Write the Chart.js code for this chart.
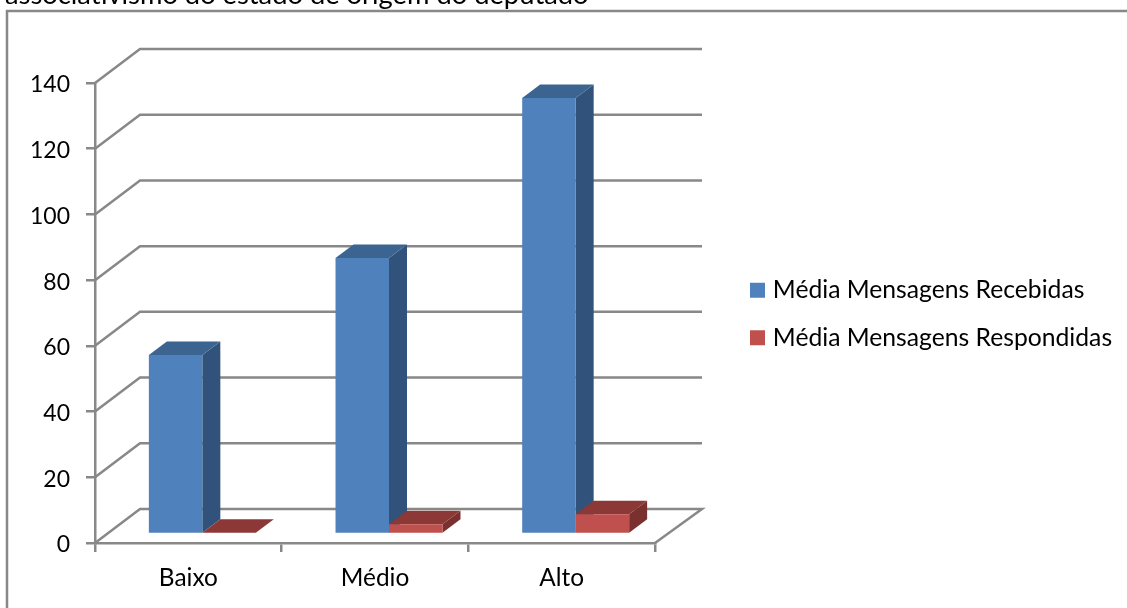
<!DOCTYPE html>
<html>
<head>
<meta charset="utf-8">
<script src="https://cdn.jsdelivr.net/npm/chart.js@4"></script>
<style>
  html, body { margin: 0; padding: 0; background: #fff; overflow: hidden; }
  #wrap { position: relative; width: 1127px; height: 608px; overflow: hidden; }
  #caption { position: absolute; left: 5px; top: -23px; font: 27.3px Lato, sans-serif; color: #000; white-space: nowrap; }
  canvas { position: absolute; left: 0; top: 0; }
</style>
</head>
<body>
<div id="wrap">
  <canvas id="chart" width="1127" height="608"></canvas>
  <div id="caption">associativismo do estado de origem do deputado</div>
</div>
<script>
const categories = ["Baixo", "Médio", "Alto"];
const recebidas = [54.5, 84, 132.7];
const respondidas = [0.4, 3, 6];
const yTicks = [0, 20, 40, 60, 80, 100, 120, 140];

const lineGrey = '#888888';
const chartFont = 'Lato, sans-serif';

// the 3D look: how far the walls and the bars go back
const wallX = 45, wallY = -34;
const barShiftX = 14, barShiftY = -9;
const depthX = 18, depthY = -13.5;

const faceColors = [
  { top: '#3b6491', side: '#31527a' },
  { top: '#8c3836', side: '#7a302e' }
];

function poly(ctx, pts, fill) {
  ctx.beginPath();
  pts.forEach((p, i) => i ? ctx.lineTo(p[0], p[1]) : ctx.moveTo(p[0], p[1]));
  ctx.closePath();
  ctx.fillStyle = fill;
  ctx.fill();
}

const threeD = {
  id: 'threeD',
  beforeLayout(chart) {
    // the legend sits far from the plot, so reserve the whole right part for it
    const legend = chart.legend;
    if (!legend._fitWrapped) {
      const fit = legend.fit;
      legend.fit = function () {
        fit.call(this);
        this.width = 472;
      };
      legend._fitWrapped = true;
    }
  },
  afterLayout(chart) {
    chart.legend.left = 731.5;
    chart.legend.bottom = 545;
  },
  beforeDraw(chart) {
    const ctx = chart.ctx;
    ctx.save();
    // outer frame, cut by the page on the right and at the bottom
    ctx.strokeStyle = lineGrey;
    ctx.lineWidth = 2.5;
    ctx.beginPath();
    ctx.moveTo(7, 610);
    ctx.lineTo(7, 11);
    ctx.lineTo(1129, 11);
    ctx.stroke();
    ctx.restore();
  },
  beforeDatasetsDraw(chart) {
    const ctx = chart.ctx;
    const { left, right } = chart.chartArea;
    const yScale = chart.scales.y;

    ctx.save();
    ctx.strokeStyle = lineGrey;
    ctx.lineWidth = 2.5;
    yTicks.forEach(v => {
      const y = yScale.getPixelForValue(v);
      ctx.beginPath();
      ctx.moveTo(left, y);
      ctx.lineTo(left + wallX, y + wallY);
      ctx.lineTo(right + wallX + 2, y + wallY);
      if (v === 0) ctx.lineTo(right, y);
      ctx.stroke();
    });
    ctx.restore();

    // side and top faces first, the fronts come from the bars themselves
    ctx.save();
    ctx.translate(barShiftX, barShiftY);
    chart.data.datasets.forEach((ds, i) => {
      chart.getDatasetMeta(i).data.forEach(bar => {
        const l = bar.x - bar.width / 2, r = bar.x + bar.width / 2;
        const t = bar.y, b = bar.base;
        poly(ctx, [[r, t], [r + depthX, t + depthY], [r + depthX, b + depthY], [r, b]], faceColors[i].side);
        poly(ctx, [[l, t], [l + depthX, t + depthY], [r + depthX, t + depthY], [r, t]], faceColors[i].top);
      });
    });
    ctx.restore();

    ctx.save();
    ctx.translate(barShiftX, barShiftY);
  },
  afterDatasetsDraw(chart) {
    chart.ctx.restore();
  }
};

new Chart(document.getElementById('chart'), {
  type: 'bar',
  plugins: [threeD],
  data: {
    labels: categories,
    datasets: [
      { label: 'Média Mensagens Recebidas', data: recebidas, backgroundColor: '#4f81bd', borderWidth: 0, clip: false },
      { label: 'Média Mensagens Respondidas', data: respondidas, backgroundColor: '#c0504d', borderWidth: 0, clip: false }
    ]
  },
  options: {
    responsive: false,
    animation: false,
    categoryPercentage: 0.573,
    barPercentage: 1,
    layout: { padding: { left: 0, right: 0, top: 83, bottom: 0 } },
    plugins: {
      title: { display: false },
      tooltip: { enabled: false },
      legend: {
        position: 'right',
        labels: {
          // small box with a thick border of the same colour keeps the text close to the swatch
          boxWidth: 6,
          boxHeight: 6,
          padding: 23,
          color: '#000',
          font: { family: chartFont, size: 24.7 },
          generateLabels(chart) {
            return Chart.defaults.plugins.legend.labels.generateLabels(chart).map(item => {
              item.strokeStyle = item.fillStyle;
              item.lineWidth = 9;
              return item;
            });
          }
        }
      }
    },
    scales: {
      x: {
        afterFit(scale) { scale.height = 65; },
        grid: { drawOnChartArea: false, offset: true, tickLength: 9, color: lineGrey, lineWidth: 2.5 },
        border: { color: lineGrey, width: 2.5 },
        ticks: { color: '#000', padding: 12, maxRotation: 0, font: { family: chartFont, size: 24.4 } }
      },
      y: {
        min: 0,
        max: 140,
        afterFit(scale) { scale.width = 95; },
        grid: { drawOnChartArea: false, tickLength: 9, color: lineGrey, lineWidth: 2.5 },
        border: { color: lineGrey, width: 2.5 },
        ticks: { stepSize: 20, color: '#000', padding: 16, labelOffset: 2, font: { family: chartFont, size: 23 } }
      }
    }
  }
});
</script>
</body>
</html>
